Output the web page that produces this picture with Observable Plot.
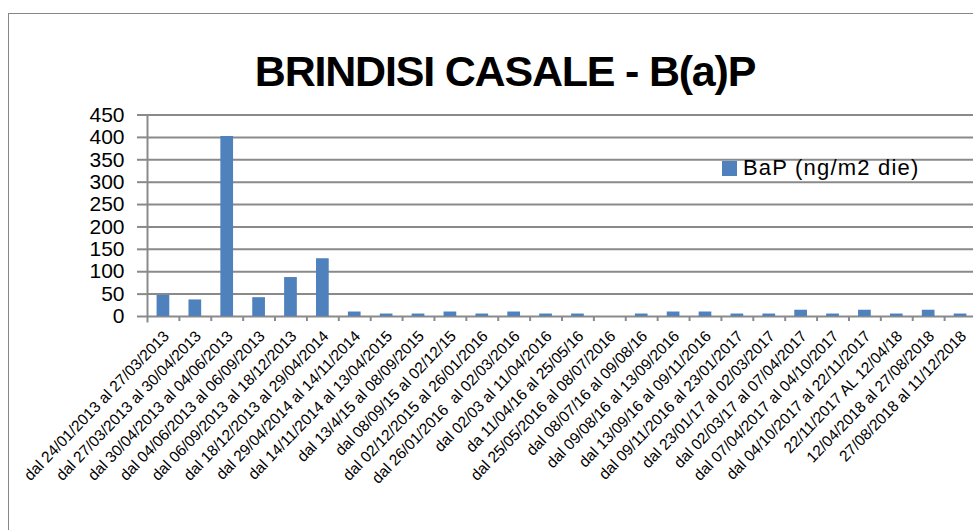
<!DOCTYPE html>
<html><head><meta charset="utf-8">
<script src="https://cdn.jsdelivr.net/npm/d3@7"></script>
<script src="https://cdn.jsdelivr.net/npm/@observablehq/plot@0.6"></script>
<style>
body{margin:0;background:#fff;}
#wrap{position:relative;width:973px;height:530px;overflow:hidden;font-family:"Liberation Sans",Arial,sans-serif;background:#fff;}
#frame{position:absolute;left:8px;top:13px;width:990px;height:560px;border-left:1px solid #868686;border-top:1px solid #868686;}
#title{position:absolute;left:505px;top:50px;transform:translateX(-50%);white-space:nowrap;font-weight:bold;font-size:43px;line-height:43px;letter-spacing:-1.2px;color:#000;}
#legend{position:absolute;left:722px;top:156px;display:flex;align-items:center;font-size:22px;line-height:24px;letter-spacing:1.2px;color:#000;}
#legend .sw{display:inline-block;width:15px;height:15px;background:#4F81BD;margin-right:6px;}
#chart{position:absolute;left:0;top:0;}
</style></head>
<body>
<div id="wrap">
  <div id="frame"></div>
  <div id="chart"></div>
  <div id="title"></div>
  <div id="legend"><span class="sw"></span><span id="legtxt"></span></div>
</div>
<script>
const titleText = "BRINDISI CASALE - B(a)P";
const seriesName = "BaP (ng/m2 die)";
const periods = [
  "dal 24/01/2013 al 27/03/2013",
  "dal 27/03/2013 al 30/04/2013",
  "dal 30/04/2013 al 04/06/2013",
  "dal 04/06/2013 al 06/09/2013",
  "dal 06/09/2013 al 18/12/2013",
  "dal 18/12/2013 al 29/04/2014",
  "dal 29/04/2014 al 14/11/2014",
  "dal 14/11/2014 al 13/04/2015",
  "dal 13/4/15 al 08/09/2015",
  "dal 08/09/15 al 02/12/15",
  "dal 02/12/2015 al 26/01/2016",
  "dal 26/01/2016  al 02/03/2016",
  "dal 02/03 al 11/04/2016",
  "da 11/04/16 al 25/05/16",
  "dal 25/05/2016 al 08/07/2016",
  "dal 08/07/16 al 09/08/16",
  "dal 09/08/16 al 13/09/2016",
  "dal 13/09/16 al 09/11/2016",
  "dal 09/11/2016 al 23/01/2017",
  "dal 23/01/17 al 02/03/2017",
  "dal 02/03/17 al 07/04/2017",
  "dal 07/04/2017 al 04/10/2017",
  "dal 04/10/2017 al 22/11/2017",
  "22/11/2017 AL 12/04/18",
  "12/04/2018 al 27/08/2018",
  "27/08/2018 al 11/12/2018"
];
const bapValues = [47, 37, 402, 42, 87, 129, 10, 5.5, 5.5, 10, 5.5, 10, 5.5, 5.5, 0, 5.5, 10, 10, 5.5, 5.5, 14, 5.5, 14, 5.5, 14, 5.5];
const yTicks = [0, 50, 100, 150, 200, 250, 300, 350, 400, 450];

document.getElementById("title").textContent = titleText;
document.getElementById("legtxt").textContent = seriesName;

const data = periods.map((p, i) => ({period: p, value: bapValues[i]}));
const W = 973, H = 530, mL = 147, mR = -3, y0 = 316, yTop = 114.5;
const step = (W - mL - mR) / periods.length;
const barW = 12.7;
const inset = (step - barW) / 2;
const gray = "#8a8a8a";

const chart = Plot.plot({
  width: W, height: H,
  marginLeft: mL, marginRight: mR, marginTop: yTop, marginBottom: H - y0,
  style: {fontFamily: '"Liberation Sans", Arial, sans-serif', background: "transparent", overflow: "visible", color: "#000"},
  x: {type: "band", domain: periods, padding: 0, round: false},
  y: {domain: [0, 450], ticks: yTicks},
  marks: [
    Plot.gridY(yTicks, {stroke: gray, strokeOpacity: 1, strokeWidth: 2}),
    Plot.axisY(yTicks, {tickSize: 10, tickPadding: 13, stroke: gray, strokeWidth: 2, fontSize: 21, fill: "#000", label: null}),
    Plot.axisX({tickSize: 5, dx: step / 2, tickFormat: () => "", stroke: gray, strokeWidth: 2, label: null}),
    Plot.frame({anchor: "left", stroke: gray, strokeWidth: 2, insetBottom: -5}),
    Plot.barY(data, {x: "period", y: "value", fill: "#4F81BD", insetLeft: inset, insetRight: inset}),
    Plot.axisX({tickSize: 0, tickRotate: -46, tickPadding: 17, dx: 3, fontSize: 15.5, fill: "#000", textAnchor: "end", label: null})
  ]
});
document.getElementById("chart").appendChild(chart);
</script>
</body></html>
